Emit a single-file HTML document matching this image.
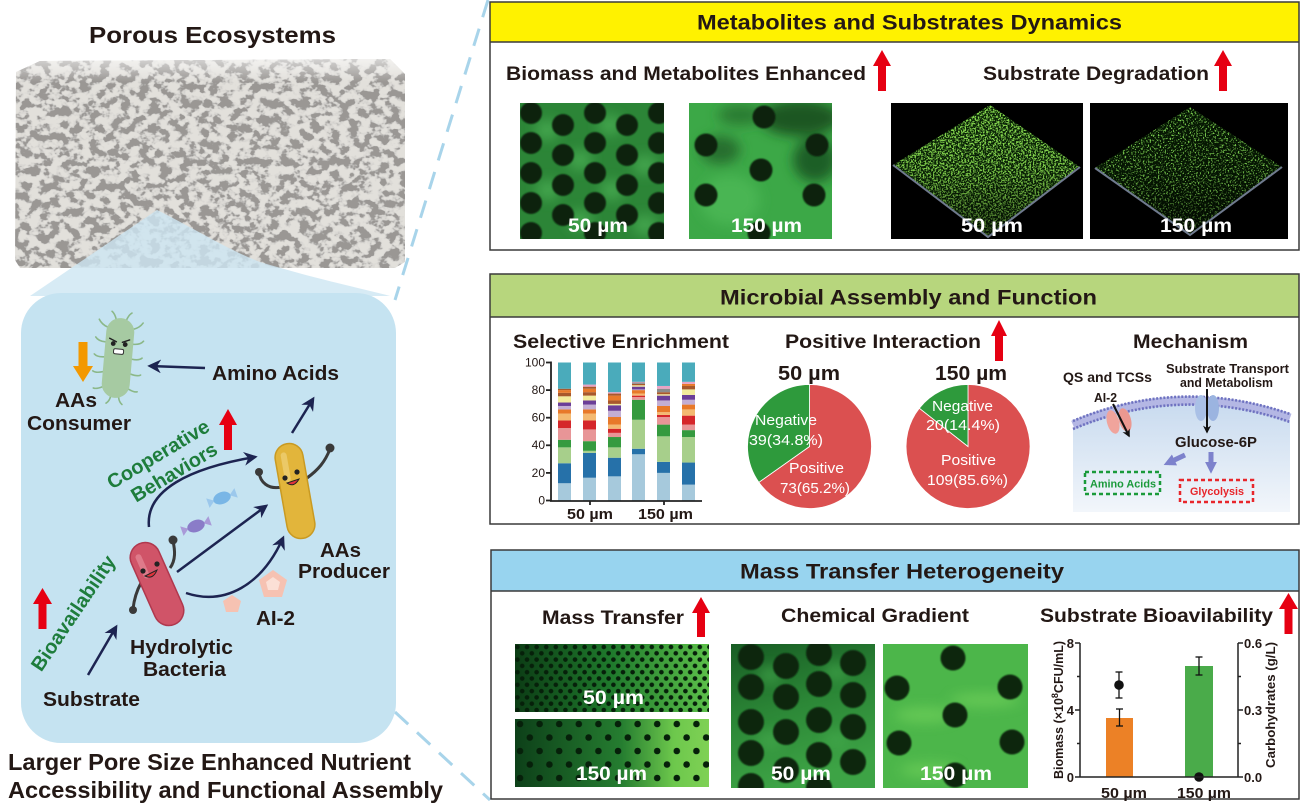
<!DOCTYPE html>
<html><head><meta charset="utf-8">
<style>
html,body{margin:0;padding:0;background:#fff;}
svg{display:block;}
text{font-family:"Liberation Sans",Arial,sans-serif;}
.b{font-weight:bold;fill:#231815;}
.w{font-weight:bold;fill:#fff;}
.pl{fill:#fff;font-size:15px;}
.g{font-weight:bold;fill:#1e7d3c;}
</style></head><body>
<svg width="1316" height="811" viewBox="0 0 1316 811" xmlns="http://www.w3.org/2000/svg">
<defs>
  <filter id="foamF" x="0" y="0" width="1" height="1">
    <feTurbulence type="fractalNoise" baseFrequency="0.1 0.12" numOctaves="3" seed="7" result="n"/>
    <feColorMatrix in="n" type="matrix" values="0 0 0 0 0.6  0 0 0 0 0.59  0 0 0 0 0.57  -6 0 0 0 3.6" result="halo"/>
    <feColorMatrix in="n" type="matrix" values="0 0 0 0 0.32  0 0 0 0 0.31  0 0 0 0 0.3  -11 0 0 0 5.6" result="h"/>
    <feFlood flood-color="#e2e0db" result="bg"/>
    <feMerge><feMergeNode in="bg"/><feMergeNode in="halo"/><feMergeNode in="h"/></feMerge>
  </filter>
  <filter id="sp1" x="0" y="0" width="1" height="1">
    <feTurbulence type="fractalNoise" baseFrequency="0.6" numOctaves="2" seed="4"/>
    <feColorMatrix type="matrix" values="0 0 0 0 0.25  0 0 0 0 0.72  0 0 0 0 0.08  8 0 0 0 -3.8"/>
  </filter>
  <filter id="sp2" x="0" y="0" width="1" height="1">
    <feTurbulence type="fractalNoise" baseFrequency="0.6" numOctaves="2" seed="9"/>
    <feColorMatrix type="matrix" values="0 0 0 0 0.2  0 0 0 0 0.62  0 0 0 0 0.08  8 0 0 0 -4.4"/>
  </filter>
  <filter id="bl6"><feGaussianBlur stdDeviation="6"/></filter>
  <filter id="bl1"><feGaussianBlur stdDeviation="0.8"/></filter>
  <marker id="ah" viewBox="0 0 10 10" refX="8" refY="5" markerWidth="5.5" markerHeight="5.5" orient="auto" markerUnits="strokeWidth">
    <path d="M0,0 L10,5 L0,10 L3,5 Z" fill="#1d2451"/>
  </marker>
  <marker id="ahk" viewBox="0 0 10 10" refX="8" refY="5" markerWidth="4" markerHeight="4" orient="auto" markerUnits="strokeWidth">
    <path d="M0,0 L10,5 L0,10 L3,5 Z" fill="#111"/>
  </marker>
  <marker id="ahp" viewBox="0 0 10 10" refX="6" refY="5" markerWidth="2.4" markerHeight="2.4" orient="auto" markerUnits="strokeWidth">
    <path d="M0,0 L10,5 L0,10 Z" fill="#7d82cc"/>
  </marker>
  <linearGradient id="mt1" x1="0" x2="1" y1="0" y2="0">
    <stop offset="0" stop-color="#0c3d15"/><stop offset="0.5" stop-color="#1f7a2c"/><stop offset="1" stop-color="#5cc04a"/>
  </linearGradient>
  <linearGradient id="mt2" x1="0" x2="1" y1="0" y2="0">
    <stop offset="0" stop-color="#0d4019"/><stop offset="0.55" stop-color="#257d30"/><stop offset="0.82" stop-color="#6dc84c"/><stop offset="1" stop-color="#7fd155"/>
  </linearGradient>
  <linearGradient id="cg1" x1="0" x2="0.3" y1="0" y2="1">
    <stop offset="0" stop-color="#185c24"/><stop offset="0.5" stop-color="#2b8636"/><stop offset="1" stop-color="#3da345"/>
  </linearGradient>
  <linearGradient id="cell" x1="0" x2="0" y1="0" y2="1">
    <stop offset="0" stop-color="#c9dbef"/><stop offset="1" stop-color="#f2f6fb"/>
  </linearGradient>
  <linearGradient id="topface" x1="0" x2="0" y1="0" y2="1">
    <stop offset="0" stop-color="#ffffff" stop-opacity="0.6"/><stop offset="1" stop-color="#ffffff" stop-opacity="0"/>
  </linearGradient>
  <linearGradient id="dimDown" x1="0" x2="0" y1="0" y2="1">
    <stop offset="0" stop-color="#000" stop-opacity="0"/><stop offset="0.5" stop-color="#000" stop-opacity="0.1"/><stop offset="1" stop-color="#000" stop-opacity="0.6"/>
  </linearGradient>
  <pattern id="dots1" patternUnits="userSpaceOnUse" x="515" y="644" width="9.6" height="12.6">
    <circle cx="2.4" cy="3" r="2.3" fill="#06200a"/><circle cx="7.2" cy="9.3" r="2.3" fill="#06200a"/>
  </pattern>
  <pattern id="dots2" patternUnits="userSpaceOnUse" x="515" y="719" width="19.6" height="27">
    <circle cx="5" cy="5" r="3.3" fill="#06200a"/><circle cx="14.8" cy="18.5" r="3.3" fill="#06200a"/>
  </pattern>
  <clipPath id="foamClip"><path d="M16,72 L40,61 L390,59 L405,74 L405,262 L395,268 L20,268 L15,260 Z"/></clipPath>
  <clipPath id="ci1"><rect x="520" y="103" width="144" height="136"/></clipPath>
  <clipPath id="ci2"><rect x="689" y="103" width="143" height="136"/></clipPath>
  <clipPath id="cc1"><rect x="731" y="644" width="144" height="144"/></clipPath>
  <clipPath id="cc2"><rect x="883" y="644" width="145" height="144"/></clipPath>
  <clipPath id="dm1"><polygon points="990,105 1080,167 988,237 893,165"/></clipPath>
  <clipPath id="dm2"><polygon points="1190,107 1282,167 1190,235 1095,168"/></clipPath>
</defs>

<rect width="1316" height="811" fill="#fff"/>

<!-- ============ LEFT SIDE ============ -->
<text class="b" x="89" y="43" font-size="23" textLength="247" lengthAdjust="spacingAndGlyphs">Porous Ecosystems</text>

<!-- foam block -->
<g clip-path="url(#foamClip)">
  <rect x="15" y="58" width="392" height="212" filter="url(#foamF)"/>
  <rect x="15" y="58" width="392" height="24" fill="url(#topface)"/>
</g>
<!-- dashed connector lines -->
<line x1="488" y1="0" x2="395" y2="300" stroke="#a8d4ea" stroke-width="3" stroke-dasharray="18 12"/>
<line x1="395" y1="712" x2="490" y2="800" stroke="#a8d4ea" stroke-width="3" stroke-dasharray="18 12"/>

<!-- spotlight -->
<path d="M30,296 L157,210 C190,226 228,250 260,262 C320,280 360,288 390,296 Z" fill="#cde6f3" opacity="0.8"/>
<!-- blue box -->
<rect x="21" y="293" width="375" height="450" rx="40" fill="#c5e3f1"/>

<!-- consumer bacterium -->
<g transform="translate(118,358) rotate(5)" stroke="#8bb888" stroke-width="1.6" fill="none" stroke-linecap="round">
  <path d="M-13,-30 q-6,-2 -9,-7"/><path d="M-14,-15 q-7,0 -10,-4"/><path d="M-14,0 q-7,1 -10,-2"/><path d="M-14,15 q-7,2 -10,0"/><path d="M-13,30 q-6,3 -9,2"/>
  <path d="M13,-30 q6,-2 9,-7"/><path d="M14,-15 q7,0 10,-4"/><path d="M14,0 q7,1 10,-2"/><path d="M14,15 q7,2 10,0"/><path d="M13,30 q6,3 9,2"/>
  <path d="M-5,-38 q-2,-6 -5,-8"/><path d="M5,-38 q2,-6 5,-8"/><path d="M-4,39 q-1,5 -4,7"/><path d="M4,39 q1,5 4,7"/>
  <rect x="-14" y="-40" width="28" height="80" rx="14" fill="#a6caa2" stroke="none"/>
  <circle cx="-6" cy="-14" r="2.4" fill="#222" stroke="none"/><circle cx="6" cy="-14" r="2.4" fill="#222" stroke="none"/>
  <path d="M-10,-19 L-3,-16 M10,-19 L3,-16" stroke="#222" stroke-width="1.4"/>
  <rect x="-5" y="-9" width="10" height="5" rx="1.5" fill="#fff" stroke="#333" stroke-width="1"/>
</g>
<polygon points="73,366 83,382 93,366 87.5,366 87.5,342 78.5,342 78.5,366" fill="#f39800"/>
<text class="b" x="55" y="407" font-size="20" textLength="42" lengthAdjust="spacingAndGlyphs">AAs</text>
<text class="b" x="27" y="430" font-size="20" textLength="104" lengthAdjust="spacingAndGlyphs">Consumer</text>
<text class="b" x="212" y="380" font-size="20" textLength="127" lengthAdjust="spacingAndGlyphs">Amino Acids</text>

<!-- navy arrows -->
<g stroke="#1d2451" stroke-width="2.5" fill="none" marker-end="url(#ah)">
  <path d="M205,368 L150,366"/>
  <path d="M292,433 L313,399"/>
  <path d="M149,527 C145,490 190,468 255,457"/>
  <path d="M177,572 L266,506"/>
  <path d="M186,593 C225,606 262,585 283,538"/>
  <path d="M88,675 L116,627"/>
</g>

<!-- cooperative text -->
<text class="g" font-size="20" text-anchor="middle" transform="translate(158,454) rotate(-31)" dy="7">Cooperative</text>
<text class="g" font-size="20" text-anchor="middle" transform="translate(174,472) rotate(-31)" dy="7">Behaviors</text>
<polygon points="219,425 228,409 237,425 232,425 232,450 224,450 224,425" fill="#e60012"/>

<!-- candies -->
<g transform="translate(222,498) rotate(-20)">
  <polygon points="-8,0 -15,-5 -15,5" fill="#9cc8ec"/><polygon points="8,0 15,-5 15,5" fill="#9cc8ec"/>
  <ellipse cx="0" cy="0" rx="9" ry="6" fill="#79b6e6"/>
</g>
<g transform="translate(196,526) rotate(-20)">
  <polygon points="-8,0 -15,-5 -15,5" fill="#a99ad8"/><polygon points="8,0 15,-5 15,5" fill="#a99ad8"/>
  <ellipse cx="0" cy="0" rx="9" ry="6" fill="#8a7cc8"/>
</g>

<!-- yellow producer -->
<path d="M282,487 C268,490 260,482 259,472" stroke="#3a3a3a" stroke-width="3" fill="none"/>
<circle cx="259" cy="472" r="4" fill="#3a3a3a"/>
<path d="M307,478 C318,470 325,462 330,449" stroke="#3a3a3a" stroke-width="3" fill="none"/>
<circle cx="330" cy="448" r="4.5" fill="#3a3a3a"/>
<g transform="translate(295,491) rotate(-10)">
  <rect x="-14" y="-48" width="28" height="96" rx="14" fill="#e2b53b" stroke="#c99a22" stroke-width="1.5"/>
  <rect x="-8" y="-40" width="6" height="30" rx="3" fill="#f0d27a" opacity="0.7"/>
</g>
<circle cx="285" cy="478" r="2.6" fill="#222"/><circle cx="297" cy="472" r="2.6" fill="#222"/>
<path d="M287,483 Q294,488 299,479 Z" fill="#e2343c" stroke="#222" stroke-width="1"/>
<text class="b" x="320" y="557" font-size="20" textLength="41" lengthAdjust="spacingAndGlyphs">AAs</text>
<text class="b" x="298" y="578" font-size="20" textLength="92" lengthAdjust="spacingAndGlyphs">Producer</text>

<!-- red hydrolytic -->
<path d="M170,568 C176,560 175,550 173,541" stroke="#3a3a3a" stroke-width="3" fill="none"/>
<circle cx="173" cy="540" r="4.5" fill="#3a3a3a"/>
<path d="M141,583 C136,592 134,600 133,609" stroke="#3a3a3a" stroke-width="3" fill="none"/>
<circle cx="133" cy="610" r="4" fill="#3a3a3a"/>
<g transform="translate(157,584) rotate(-24)">
  <rect x="-15" y="-44" width="30" height="88" rx="15" fill="#d05468" stroke="#b0384e" stroke-width="1.5"/>
  <rect x="-9" y="-35" width="6" height="26" rx="3" fill="#e58a98" opacity="0.7"/>
</g>
<circle cx="143" cy="571" r="2.6" fill="#222"/><circle cx="157" cy="564" r="2.6" fill="#222"/>
<path d="M145,576 Q153,580 157,570 Z" fill="#e2343c" stroke="#222" stroke-width="1"/>

<!-- AI-2 pentagons -->
<polygon points="273,570 287,580 282,597 264,597 259,580" fill="#f6c2b2"/>
<polygon points="273,577 280,582 278,590 268,590 266,582" fill="#fbe0d6"/>
<polygon points="232,595 241,601 238,612 226,612 223,601" fill="#f6c2b2"/>
<text class="b" x="256" y="625" font-size="20" textLength="39" lengthAdjust="spacingAndGlyphs">AI-2</text>

<!-- bioavailability -->
<text class="g" font-size="20" text-anchor="middle" transform="translate(73,613) rotate(-56)" dy="7">Bioavailability</text>
<polygon points="33,604 42.5,588 52,604 46.5,604 46.5,629 38.5,629 38.5,604" fill="#e60012"/>
<text class="b" x="130" y="654" font-size="20" textLength="103" lengthAdjust="spacingAndGlyphs">Hydrolytic</text>
<text class="b" x="143" y="676" font-size="20" textLength="83" lengthAdjust="spacingAndGlyphs">Bacteria</text>
<text class="b" x="43" y="706" font-size="20" textLength="97" lengthAdjust="spacingAndGlyphs">Substrate</text>

<text class="b" x="8" y="770" font-size="23" textLength="403" lengthAdjust="spacingAndGlyphs">Larger Pore Size Enhanced Nutrient</text>
<text class="b" x="8" y="798" font-size="23" textLength="435" lengthAdjust="spacingAndGlyphs">Accessibility and Functional Assembly</text>

<!-- ============ PANEL 1 ============ -->
<rect x="490" y="2" width="809" height="40" fill="#fff200"/>
<rect x="490" y="2" width="809" height="248" fill="none" stroke="#3a3a3a" stroke-width="1.5"/>
<line x1="490" y1="42" x2="1299" y2="42" stroke="#3a3a3a" stroke-width="1.5"/>
<text class="b" x="697" y="29.5" font-size="21" textLength="425" lengthAdjust="spacingAndGlyphs">Metabolites and Substrates Dynamics</text>
<text class="b" x="506" y="80" font-size="19.5" textLength="360" lengthAdjust="spacingAndGlyphs">Biomass and Metabolites Enhanced</text>
<polygon points="873,66 882,50 891,66 886,66 886,91 878,91 878,66" fill="#e60012"/>
<text class="b" x="983" y="80" font-size="19.5" textLength="226" lengthAdjust="spacingAndGlyphs">Substrate Degradation</text>
<polygon points="1214,66 1223,50 1232,66 1227,66 1227,91 1219,91 1219,66" fill="#e60012"/>

<!-- image 1 -->
<g clip-path="url(#ci1)">
  <rect x="520" y="103" width="144" height="136" fill="#2c8537"/>
  <g filter="url(#bl6)" fill="#4aad52" opacity="0.8">
    <ellipse cx="547" cy="130" rx="12" ry="10"/><ellipse cx="610" cy="125" rx="12" ry="10"/><ellipse cx="580" cy="160" rx="12" ry="10"/>
    <ellipse cx="645" cy="165" rx="12" ry="10"/><ellipse cx="548" cy="190" rx="12" ry="10"/><ellipse cx="612" cy="190" rx="12" ry="10"/>
    <ellipse cx="580" cy="220" rx="12" ry="10"/><ellipse cx="645" cy="225" rx="12" ry="10"/>
  </g>
  <g fill="#0b2410" filter="url(#bl1)">
    <circle cx="531" cy="113" r="11"/><circle cx="531" cy="143" r="11"/><circle cx="531" cy="173" r="11"/><circle cx="531" cy="203" r="11"/><circle cx="531" cy="233" r="11"/>
    <circle cx="563" cy="125" r="11"/><circle cx="563" cy="155" r="11"/><circle cx="563" cy="185" r="11"/><circle cx="563" cy="215" r="11"/>
    <circle cx="595" cy="113" r="11"/><circle cx="595" cy="143" r="11"/><circle cx="595" cy="173" r="11"/><circle cx="595" cy="203" r="11"/><circle cx="595" cy="233" r="11"/>
    <circle cx="627" cy="125" r="11"/><circle cx="627" cy="155" r="11"/><circle cx="627" cy="185" r="11"/><circle cx="627" cy="215" r="11"/>
    <circle cx="659" cy="113" r="11"/><circle cx="659" cy="143" r="11"/><circle cx="659" cy="173" r="11"/><circle cx="659" cy="203" r="11"/><circle cx="659" cy="233" r="11"/>
  </g>
</g>
<text class="w" x="568" y="232" font-size="19" textLength="60" lengthAdjust="spacingAndGlyphs">50 µm</text>

<!-- image 2 -->
<g clip-path="url(#ci2)">
  <rect x="689" y="103" width="143" height="136" fill="#3ca847"/>
  <g filter="url(#bl6)">
    <ellipse cx="800" cy="118" rx="40" ry="18" fill="#1c5623"/>
    <ellipse cx="815" cy="160" rx="22" ry="22" fill="#1f5e26"/>
    <ellipse cx="720" cy="150" rx="20" ry="14" fill="#276e2e"/>
    <ellipse cx="740" cy="115" rx="22" ry="10" fill="#2a7a33"/>
    <ellipse cx="730" cy="200" rx="30" ry="25" fill="#48b553"/>
  </g>
  <g fill="#0b2410" filter="url(#bl1)">
    <circle cx="764" cy="117" r="11.5"/><circle cx="706" cy="145" r="11.5"/><circle cx="817" cy="145" r="11.5"/>
    <circle cx="761" cy="170" r="11.5"/><circle cx="706" cy="195" r="11.5"/><circle cx="814" cy="195" r="11.5"/>
    <circle cx="759" cy="233" r="11.5"/>
  </g>
</g>
<text class="w" x="731" y="232" font-size="19" textLength="71" lengthAdjust="spacingAndGlyphs">150 µm</text>

<!-- confocal 1 -->
<rect x="891" y="103" width="192" height="136" fill="#000"/>
<polygon points="990,105 1080,167 988,237 893,165" fill="#0a2406"/>
<rect x="891" y="103" width="192" height="136" filter="url(#sp1)" clip-path="url(#dm1)"/>
<polygon points="990,105 1080,167 988,237 893,165" fill="url(#dimDown)"/>
<polyline points="893,165 988,237 1080,167" fill="none" stroke="#6f7a8e" stroke-width="2"/>
<text class="w" x="961" y="232" font-size="19" textLength="62" lengthAdjust="spacingAndGlyphs">50 µm</text>

<!-- confocal 2 -->
<rect x="1090" y="103" width="198" height="136" fill="#000"/>
<polygon points="1190,107 1282,167 1190,235 1095,168" fill="#061803"/>
<rect x="1090" y="103" width="198" height="136" filter="url(#sp2)" clip-path="url(#dm2)"/>
<polygon points="1190,107 1282,167 1190,235 1095,168" fill="url(#dimDown)"/>
<polyline points="1095,168 1190,235 1282,167" fill="none" stroke="#6f7a8e" stroke-width="2"/>
<text class="w" x="1160" y="232" font-size="19" textLength="72" lengthAdjust="spacingAndGlyphs">150 µm</text>

<!-- ============ PANEL 2 ============ -->
<rect x="490" y="274" width="809" height="43" fill="#b7d67d"/>
<rect x="490" y="274" width="809" height="250" fill="none" stroke="#3a3a3a" stroke-width="1.5"/>
<line x1="490" y1="317" x2="1299" y2="317" stroke="#3a3a3a" stroke-width="1.5"/>
<text class="b" x="720" y="304.5" font-size="21" textLength="377" lengthAdjust="spacingAndGlyphs">Microbial Assembly and Function</text>

<text class="b" x="513" y="348" font-size="19.5" textLength="216" lengthAdjust="spacingAndGlyphs">Selective Enrichment</text>
<text class="b" x="785" y="348" font-size="19.5" textLength="196" lengthAdjust="spacingAndGlyphs">Positive Interaction</text>
<polygon points="991,336 999,320 1007,336 1003,336 1003,361 995,361 995,336" fill="#e60012"/>
<text class="b" x="1133" y="348" font-size="19.5" textLength="115" lengthAdjust="spacingAndGlyphs">Mechanism</text>

<!-- stacked bar chart -->
<g transform="translate(0,500.5) scale(1,-1.38)">
  <g transform="translate(558,0)">
    <rect y="0" height="12.5" width="13" fill="#a6c9dc"/><rect y="12.5" height="14.5" width="13" fill="#2671a9"/><rect y="27" height="11.5" width="13" fill="#a7cf8b"/><rect y="38.5" height="5.5" width="13" fill="#359a3f"/><rect y="44" height="8.5" width="13" fill="#e89597"/><rect y="52.5" height="5.5" width="13" fill="#d5262a"/><rect y="58" height="5" width="13" fill="#f4b971"/><rect y="63" height="3" width="13" fill="#e8792a"/><rect y="66" height="2.5" width="13" fill="#c3aed4"/><rect y="68.5" height="2.5" width="13" fill="#6b3e98"/><rect y="71" height="4.5" width="13" fill="#f2eb9c"/><rect y="75.5" height="2.5" width="13" fill="#a8582c"/><rect y="78" height="2" width="13" fill="#e8792a"/><rect y="80" height="1" width="13" fill="#a8582c"/><rect y="81" height="19" width="13" fill="#4aabbb"/>
  </g>
  <g transform="translate(583,0)">
    <rect y="0" height="16.5" width="13" fill="#a6c9dc"/><rect y="16.5" height="18" width="13" fill="#2671a9"/><rect y="34.5" height="1.5" width="13" fill="#a7cf8b"/><rect y="36" height="7" width="13" fill="#359a3f"/><rect y="43" height="8.5" width="13" fill="#e89597"/><rect y="51.5" height="6.5" width="13" fill="#d5262a"/><rect y="58" height="5" width="13" fill="#f4b971"/><rect y="63" height="3" width="13" fill="#e8792a"/><rect y="66" height="3.5" width="13" fill="#c3aed4"/><rect y="69.5" height="3" width="13" fill="#6b3e98"/><rect y="72.5" height="3.5" width="13" fill="#f2eb9c"/><rect y="76" height="2.5" width="13" fill="#a8582c"/><rect y="78.5" height="2.5" width="13" fill="#e8792a"/><rect y="81" height="1.5" width="13" fill="#a8582c"/><rect y="82.5" height="1.5" width="13" fill="#e9a3c4"/><rect y="84" height="16" width="13" fill="#4aabbb"/>
  </g>
  <g transform="translate(608,0)">
    <rect y="0" height="17.5" width="13" fill="#a6c9dc"/><rect y="17.5" height="13.5" width="13" fill="#2671a9"/><rect y="31" height="7.5" width="13" fill="#a7cf8b"/><rect y="38.5" height="7.5" width="13" fill="#359a3f"/><rect y="46" height="3" width="13" fill="#e89597"/><rect y="49" height="3" width="13" fill="#d5262a"/><rect y="52" height="3" width="13" fill="#f4b971"/><rect y="55" height="5.5" width="13" fill="#e8792a"/><rect y="60.5" height="4.5" width="13" fill="#c3aed4"/><rect y="65" height="4" width="13" fill="#6b3e98"/><rect y="69" height="1" width="13" fill="#f2eb9c"/><rect y="70" height="2.5" width="13" fill="#a8582c"/><rect y="72.5" height="3.5" width="13" fill="#e8792a"/><rect y="76" height="1.5" width="13" fill="#a8582c"/><rect y="77.5" height="1" width="13" fill="#e9a3c4"/><rect y="78.5" height="21.5" width="13" fill="#4aabbb"/>
  </g>
  <g transform="translate(632,0)">
    <rect y="0" height="33.5" width="13" fill="#a6c9dc"/><rect y="33.5" height="4" width="13" fill="#2671a9"/><rect y="37.5" height="21" width="13" fill="#a7cf8b"/><rect y="58.5" height="14.5" width="13" fill="#359a3f"/><rect y="73" height="2" width="13" fill="#e89597"/><rect y="75" height="1" width="13" fill="#d5262a"/><rect y="76" height="1.5" width="13" fill="#f4b971"/><rect y="77.5" height="2.5" width="13" fill="#e8792a"/><rect y="80" height="0.5" width="13" fill="#c3aed4"/><rect y="80.5" height="2" width="13" fill="#6b3e98"/><rect y="82.5" height="1" width="13" fill="#f2eb9c"/><rect y="83.5" height="1" width="13" fill="#a8582c"/><rect y="84.5" height="1" width="13" fill="#8c8c8c"/><rect y="85.5" height="0.5" width="13" fill="#e9a3c4"/><rect y="86" height="14" width="13" fill="#4aabbb"/>
  </g>
  <g transform="translate(657,0)">
    <rect y="0" height="20" width="13" fill="#a6c9dc"/><rect y="20" height="8" width="13" fill="#2671a9"/><rect y="28" height="18.5" width="13" fill="#a7cf8b"/><rect y="46.5" height="8.5" width="13" fill="#359a3f"/><rect y="55" height="5.5" width="13" fill="#e89597"/><rect y="60.5" height="1.5" width="13" fill="#d5262a"/><rect y="62" height="2" width="13" fill="#f4b971"/><rect y="64" height="4.5" width="13" fill="#e8792a"/><rect y="68.5" height="4" width="13" fill="#c3aed4"/><rect y="72.5" height="3.5" width="13" fill="#6b3e98"/><rect y="76" height="1" width="13" fill="#f2eb9c"/><rect y="77" height="1.5" width="13" fill="#a8582c"/><rect y="78.5" height="2.5" width="13" fill="#8c8c8c"/><rect y="81" height="2" width="13" fill="#e9a3c4"/><rect y="83" height="17" width="13" fill="#4aabbb"/>
  </g>
  <g transform="translate(682,0)">
    <rect y="0" height="11.5" width="13" fill="#a6c9dc"/><rect y="11.5" height="16" width="13" fill="#2671a9"/><rect y="27.5" height="18.5" width="13" fill="#a7cf8b"/><rect y="46" height="5" width="13" fill="#359a3f"/><rect y="51" height="4" width="13" fill="#e89597"/><rect y="55" height="6.5" width="13" fill="#d5262a"/><rect y="61.5" height="4.5" width="13" fill="#f4b971"/><rect y="66" height="3.5" width="13" fill="#e8792a"/><rect y="69.5" height="3.5" width="13" fill="#c3aed4"/><rect y="73" height="3.5" width="13" fill="#6b3e98"/><rect y="76.5" height="4" width="13" fill="#f2eb9c"/><rect y="80.5" height="2.5" width="13" fill="#a8582c"/><rect y="83" height="1.5" width="13" fill="#e8792a"/><rect y="84.5" height="1.5" width="13" fill="#e9a3c4"/><rect y="86" height="14" width="13" fill="#4aabbb"/>
  </g>
</g>
<g stroke="#222" stroke-width="1.8">
  <line x1="551" y1="361.5" x2="551" y2="501.5"/>
  <line x1="550" y1="501" x2="702" y2="501"/>
  <line x1="546" y1="362.5" x2="551" y2="362.5"/><line x1="546" y1="390.1" x2="551" y2="390.1"/><line x1="546" y1="417.7" x2="551" y2="417.7"/><line x1="546" y1="445.3" x2="551" y2="445.3"/><line x1="546" y1="472.9" x2="551" y2="472.9"/><line x1="546" y1="500.5" x2="551" y2="500.5"/>
  <line x1="590" y1="501" x2="590" y2="505"/><line x1="664" y1="501" x2="664" y2="505"/>
</g>
<g font-size="12" text-anchor="end" fill="#231815">
  <text x="545" y="366.5">100</text><text x="545" y="394">80</text><text x="545" y="421.5">60</text><text x="545" y="449">40</text><text x="545" y="477">20</text><text x="545" y="504.5">0</text>
</g>
<text class="b" x="567" y="519" font-size="15" textLength="46" lengthAdjust="spacingAndGlyphs">50 µm</text>
<text class="b" x="638" y="519" font-size="15" textLength="55" lengthAdjust="spacingAndGlyphs">150 µm</text>

<!-- pies -->
<text class="b" x="778" y="380" font-size="20" textLength="62" lengthAdjust="spacingAndGlyphs">50 µm</text>
<text class="b" x="935" y="380" font-size="20" textLength="72" lengthAdjust="spacingAndGlyphs">150 µm</text>
<path d="M809.5,446.5 L809.5,384.5 A62,62 0 1 1 758.9,482.3 Z" fill="#db5050" stroke="#fff" stroke-width="0.8"/>
<path d="M809.5,446.5 L809.5,384.5 A62,62 0 0 0 758.9,482.3 Z" fill="#2e9a3c" stroke="#fff" stroke-width="0.8"/>
<path d="M968,446.5 L968,384.5 A62,62 0 1 1 919.3,408.2 Z" fill="#db5050" stroke="#fff" stroke-width="0.8"/>
<path d="M968,446.5 L968,384.5 A62,62 0 0 0 919.3,408.2 Z" fill="#2e9a3c" stroke="#fff" stroke-width="0.8"/>
<text class="pl" x="755" y="425" textLength="62" lengthAdjust="spacingAndGlyphs">Negative</text>
<text class="pl" x="749" y="445" textLength="74" lengthAdjust="spacingAndGlyphs">39(34.8%)</text>
<text class="pl" x="789" y="473" textLength="55" lengthAdjust="spacingAndGlyphs">Positive</text>
<text class="pl" x="780" y="493" textLength="70" lengthAdjust="spacingAndGlyphs">73(65.2%)</text>
<text class="pl" x="932" y="411" textLength="61" lengthAdjust="spacingAndGlyphs">Negative</text>
<text class="pl" x="926" y="430" textLength="74" lengthAdjust="spacingAndGlyphs">20(14.4%)</text>
<text class="pl" x="941" y="465" textLength="55" lengthAdjust="spacingAndGlyphs">Positive</text>
<text class="pl" x="927" y="485" textLength="81" lengthAdjust="spacingAndGlyphs">109(85.6%)</text>

<!-- mechanism -->
<path d="M1073,429 Q1180,384 1290,422 L1290,512 L1073,512 Z" fill="url(#cell)"/>
<path d="M1073,425 Q1180,380 1290,418" fill="none" stroke="#b4b7e4" stroke-width="9"/>
<path d="M1073,421 Q1180,376 1290,414" fill="none" stroke="#6e72c0" stroke-width="2.6" stroke-dasharray="2 1.6"/>
<path d="M1073,429 Q1180,384 1290,422" fill="none" stroke="#6e72c0" stroke-width="2.6" stroke-dasharray="2 1.6"/>
<ellipse cx="1113" cy="422" rx="6" ry="12" fill="#f0a49c" transform="rotate(-15 1113 422)"/>
<ellipse cx="1125" cy="420" rx="6" ry="12" fill="#eb9890" transform="rotate(-15 1125 420)"/>
<ellipse cx="1201" cy="408" rx="6" ry="13" fill="#a9c0e6"/>
<ellipse cx="1213" cy="408" rx="6" ry="13" fill="#9bb4e0"/>
<text class="b" x="1063" y="382" font-size="14" textLength="89" lengthAdjust="spacingAndGlyphs">QS and TCSs</text>
<text class="b" x="1166" y="373" font-size="13" textLength="123" lengthAdjust="spacingAndGlyphs">Substrate Transport</text>
<text class="b" x="1180" y="387" font-size="13" textLength="93" lengthAdjust="spacingAndGlyphs">and Metabolism</text>
<text class="b" x="1094" y="402" font-size="13" textLength="23" lengthAdjust="spacingAndGlyphs">AI-2</text>
<path d="M1113,404 L1129,436" stroke="#111" stroke-width="2" marker-end="url(#ahk)"/>
<path d="M1207,389 L1207,432" stroke="#111" stroke-width="2" marker-end="url(#ahk)"/>
<text class="b" x="1175" y="447" font-size="14.5" textLength="82" lengthAdjust="spacingAndGlyphs">Glucose-6P</text>
<path d="M1185,455 L1168,463" stroke="#7d82cc" stroke-width="5" marker-end="url(#ahp)"/>
<path d="M1211,452 L1211,469" stroke="#7d82cc" stroke-width="5" marker-end="url(#ahp)"/>
<rect x="1085" y="472" width="75" height="22" fill="none" stroke="#1a9a3a" stroke-width="2.5" stroke-dasharray="4 3"/>
<text x="1090" y="487.5" font-size="11" font-weight="bold" fill="#1a9a3a" textLength="66" lengthAdjust="spacingAndGlyphs">Amino Acids</text>
<rect x="1180" y="480" width="73" height="22" fill="none" stroke="#e8262b" stroke-width="2.5" stroke-dasharray="4 3"/>
<text x="1190" y="495" font-size="11" font-weight="bold" fill="#e8262b" textLength="54" lengthAdjust="spacingAndGlyphs">Glycolysis</text>

<!-- ============ PANEL 3 ============ -->
<rect x="491" y="550" width="808" height="41" fill="#98d4ef"/>
<rect x="491" y="550" width="808" height="249" fill="none" stroke="#3a3a3a" stroke-width="1.5"/>
<line x1="491" y1="591" x2="1299" y2="591" stroke="#3a3a3a" stroke-width="1.5"/>
<text class="b" x="740" y="578.5" font-size="21" textLength="324" lengthAdjust="spacingAndGlyphs">Mass Transfer Heterogeneity</text>

<text class="b" x="542" y="624" font-size="19.5" textLength="142" lengthAdjust="spacingAndGlyphs">Mass Transfer</text>
<polygon points="692,613 701,597 710,613 705,613 705,637 697,637 697,613" fill="#e60012"/>
<text class="b" x="781" y="622" font-size="19.5" textLength="188" lengthAdjust="spacingAndGlyphs">Chemical Gradient</text>
<text class="b" x="1040" y="622" font-size="19.5" textLength="233" lengthAdjust="spacingAndGlyphs">Substrate Bioavilability</text>
<polygon points="1279,609 1288.5,593 1298,609 1292.5,609 1292.5,634 1284.5,634 1284.5,609" fill="#e60012"/>

<!-- mass transfer images -->
<rect x="515" y="644" width="194" height="68" fill="url(#mt1)"/>
<rect x="515" y="644" width="194" height="68" fill="url(#dots1)"/>
<text class="w" x="583" y="704" font-size="19" textLength="61" lengthAdjust="spacingAndGlyphs">50 µm</text>
<rect x="515" y="719" width="194" height="68" fill="url(#mt2)"/>
<rect x="515" y="719" width="194" height="68" fill="url(#dots2)"/>
<text class="w" x="576" y="780" font-size="19" textLength="71" lengthAdjust="spacingAndGlyphs">150 µm</text>

<!-- chem gradient 50 -->
<g clip-path="url(#cc1)">
  <rect x="731" y="644" width="144" height="144" fill="url(#cg1)"/>
  <g filter="url(#bl6)" fill="#45aa4d" opacity="0.6">
    <ellipse cx="770" cy="675" rx="12" ry="9"/><ellipse cx="836" cy="672" rx="12" ry="9"/><ellipse cx="770" cy="740" rx="14" ry="10"/><ellipse cx="836" cy="740" rx="12" ry="9"/>
  </g>
  <g fill="#0a2510" filter="url(#bl1)">
    <circle cx="751" cy="657" r="13"/><circle cx="751" cy="687" r="13"/><circle cx="751" cy="722" r="13"/><circle cx="751" cy="753" r="13"/><circle cx="751" cy="786" r="13"/>
    <circle cx="786" cy="666" r="13"/><circle cx="786" cy="697" r="13"/><circle cx="786" cy="732" r="13"/><circle cx="786" cy="770" r="13"/>
    <circle cx="819" cy="653" r="13"/><circle cx="819" cy="684" r="13"/><circle cx="819" cy="720" r="13"/><circle cx="819" cy="755" r="13"/><circle cx="819" cy="788" r="13"/>
    <circle cx="853" cy="663" r="13"/><circle cx="853" cy="695" r="13"/><circle cx="853" cy="727" r="13"/><circle cx="853" cy="762" r="13"/>
  </g>
</g>
<text class="w" x="771" y="780" font-size="19" textLength="60" lengthAdjust="spacingAndGlyphs">50 µm</text>

<!-- chem gradient 150 -->
<g clip-path="url(#cc2)">
  <rect x="883" y="644" width="145" height="144" fill="#4cb64a"/>
  <g filter="url(#bl6)" fill="#6fd05a" opacity="0.7">
    <ellipse cx="925" cy="715" rx="30" ry="8"/><ellipse cx="985" cy="700" rx="35" ry="7"/><ellipse cx="930" cy="770" rx="30" ry="7"/>
  </g>
  <g fill="#0a2510" filter="url(#bl1)">
    <circle cx="953" cy="658" r="12.5"/><circle cx="897" cy="688" r="12.5"/><circle cx="1010" cy="687" r="12.5"/>
    <circle cx="955" cy="715" r="12.5"/><circle cx="899" cy="743" r="12.5"/><circle cx="1012" cy="742" r="12.5"/>
    <circle cx="955" cy="775" r="12.5"/>
  </g>
</g>
<text class="w" x="920" y="780" font-size="19" textLength="72" lengthAdjust="spacingAndGlyphs">150 µm</text>

<!-- substrate bioavailability chart -->
<rect x="1106" y="718" width="27" height="59" fill="#ec8126"/>
<rect x="1185" y="666" width="28" height="111" fill="#4aab4a"/>
<g stroke="#111" stroke-width="1.3">
  <line x1="1119.5" y1="709" x2="1119.5" y2="726"/><line x1="1116" y1="709" x2="1123" y2="709"/><line x1="1116" y1="726" x2="1123" y2="726"/>
  <line x1="1199" y1="657" x2="1199" y2="675"/><line x1="1195.5" y1="657" x2="1202.5" y2="657"/><line x1="1195.5" y1="675" x2="1202.5" y2="675"/>
  <line x1="1119" y1="672" x2="1119" y2="698"/><line x1="1115.5" y1="672" x2="1122.5" y2="672"/><line x1="1115.5" y1="698" x2="1122.5" y2="698"/>
</g>
<circle cx="1119" cy="685" r="4.8" fill="#111"/>
<circle cx="1199" cy="777" r="4.8" fill="#111"/>
<g stroke="#222" stroke-width="1.5" fill="none">
  <line x1="1080" y1="643" x2="1080" y2="777.5"/>
  <line x1="1238" y1="643" x2="1238" y2="777.5"/>
  <line x1="1080" y1="777" x2="1238" y2="777"/>
  <line x1="1075" y1="643" x2="1080" y2="643"/><line x1="1075" y1="710" x2="1080" y2="710"/><line x1="1075" y1="777" x2="1080" y2="777"/>
  <line x1="1077" y1="676.5" x2="1080" y2="676.5"/><line x1="1077" y1="743.5" x2="1080" y2="743.5"/>
  <line x1="1238" y1="643" x2="1243" y2="643"/><line x1="1238" y1="710" x2="1243" y2="710"/><line x1="1238" y1="777" x2="1243" y2="777"/>
  <line x1="1238" y1="676.5" x2="1241" y2="676.5"/><line x1="1238" y1="743.5" x2="1241" y2="743.5"/>
</g>
<g font-size="13" font-weight="bold" fill="#231815">
  <text x="1074" y="648" text-anchor="end">8</text>
  <text x="1074" y="715" text-anchor="end">4</text>
  <text x="1074" y="782" text-anchor="end">0</text>
  <text x="1244" y="648">0.6</text>
  <text x="1244" y="715">0.3</text>
  <text x="1244" y="782">0.0</text>
</g>
<text class="b" x="1101" y="798" font-size="15" textLength="46" lengthAdjust="spacingAndGlyphs">50 µm</text>
<text class="b" x="1177" y="798" font-size="15" textLength="54" lengthAdjust="spacingAndGlyphs">150 µm</text>
<text class="b" font-size="12.5" text-anchor="middle" transform="translate(1063,710) rotate(-90)">Biomass (×10<tspan dy="-5" font-size="9">8</tspan><tspan dy="5">CFU/mL)</tspan></text>
<text class="b" font-size="12.5" text-anchor="middle" transform="translate(1275,705) rotate(-90)" textLength="126" lengthAdjust="spacingAndGlyphs">Carbohydrates (g/L)</text>
</svg>
</body></html>
